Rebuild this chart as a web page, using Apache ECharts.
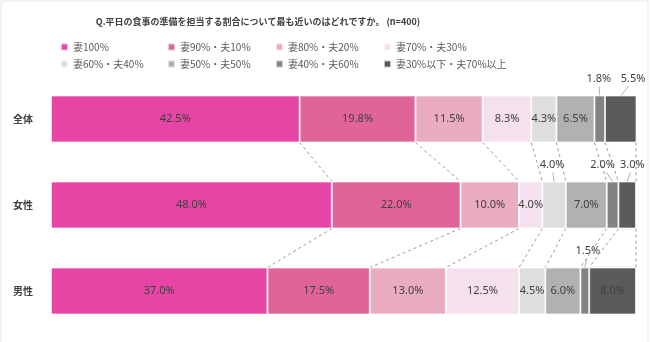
<!DOCTYPE html>
<html><head><meta charset="utf-8">
<script src="https://cdn.jsdelivr.net/npm/echarts@6/dist/echarts.min.js"></script>
<style>html,body{margin:0;padding:0;background:#fff}#c{width:650px;height:342px}</style>
</head><body><div id="c"></div>
<script>
var categories = ['全体', '女性', '男性'];
var seriesNames = ['妻100%', '妻90%・夫10%', '妻80%・夫20%', '妻70%・夫30%', '妻60%・夫40%', '妻50%・夫50%', '妻40%・夫60%', '妻30%以下・夫70%以上'];
var s0 = [42.5, 48.0, 37.0];
var s1 = [19.8, 22.0, 17.5];
var s2 = [11.5, 10.0, 13.0];
var s3 = [8.3, 4.0, 12.5];
var s4 = [4.3, 4.0, 4.5];
var s5 = [6.5, 7.0, 6.0];
var s6 = [1.8, 2.0, 1.5];
var s7 = [5.5, 3.0, 8.0];
var values = [s0, s1, s2, s3, s4, s5, s6, s7];
var title = 'Q.平日の食事の準備を担当する割合について最も近いのはどれですか。 (n=400)';

var colors = ['#E645A5', '#E06497', '#E9ACC1', '#F5E1EE', '#DEDEDE', '#B1B1B1', '#838383', '#5B5B5B'];
var BAR = 47;
// labels drawn outside: [seriesIndex, catIndex, dx]
var outside = [[6, 0, -1], [7, 0, 12], [4, 1, -2], [6, 1, -10], [7, 1, 5], [6, 2, 3]];
function isOutside(si, ci) { return outside.some(function (o) { return o[0] === si && o[1] === ci; }); }

var series = values.map(function (arr, si) {
  return {
    name: seriesNames[si], type: 'bar', stack: 'a', barWidth: BAR,
    itemStyle: { color: colors[si], borderColor: 'rgba(255,255,255,0.65)', borderWidth: 1 },
    label: { show: true, position: 'inside', color: '#404040', fontSize: 11, fontFamily: 'Noto Sans',
      formatter: function (p) { return p.value.toFixed(1) + '%'; } },
    data: arr.map(function (v, ci) {
      return isOutside(si, ci) ? { value: v, label: { show: false } } : v;
    }),
    z: 3
  };
});

// connector lines: cumulative boundaries between consecutive categories
var connData = [];
for (var ci = 0; ci < categories.length - 1; ci++) {
  var a = 0, b = 0;
  for (var si = 0; si < values.length; si++) {
    a += values[si][ci]; b += values[si][ci + 1];
    connData.push([Math.min(a, 100), ci, Math.min(b, 100), ci + 1]);
  }
}
series.push({
  type: 'custom', silent: true, z: 1,
  renderItem: function (params, api) {
    var p1 = api.coord([api.value(0), api.value(1)]);
    var p2 = api.coord([api.value(2), api.value(3)]);
    return { type: 'line', shape: { x1: p1[0], y1: p1[1] + BAR / 2, x2: p2[0], y2: p2[1] - BAR / 2 },
      style: { stroke: '#9a9a9a', lineWidth: 1, lineDash: [3, 3] } };
  },
  data: connData
});

// outside labels
var outData = outside.map(function (o) {
  var si = o[0], ci = o[1], start = 0;
  for (var k = 0; k < si; k++) start += values[k][ci];
  return [start + values[si][ci] / 2, ci, values[si][ci], o[2]];
});
series.push({
  type: 'custom', silent: true, z: 4,
  renderItem: function (params, api) {
    var p = api.coord([api.value(0), api.value(1)]);
    var dx = api.value(3);
    var top = p[1] - BAR / 2;
    return { type: 'group', children: [
      { type: 'line', shape: { x1: p[0] + dx * 0.6, y1: top - 9, x2: p[0], y2: top },
        style: { stroke: '#b0b0b0', lineWidth: 1 } },
      { type: 'text', x: p[0] + dx, y: top - 17,
        style: { text: api.value(2).toFixed(1) + '%', fill: '#404040', fontSize: 11, fontFamily: 'Noto Sans',
          textAlign: 'center', textVerticalAlign: 'middle' } }
    ] };
  },
  data: outData
});

var legendCols = [55, 162, 270, 378];
var legends = seriesNames.map(function (n, i) {
  return { left: legendCols[i % 4], top: i < 4 ? 37 : 54, data: [n],
    icon: 'rect', itemWidth: 7, itemHeight: 7, itemGap: 4,
    textStyle: { color: '#595959', fontSize: 10, fontFamily: 'Noto Sans CJK JP' } };
});
var chart = echarts.init(document.getElementById('c'));
chart.setOption({
  animation: false,
  color: colors,
  graphic: [
    { type: 'rect', shape: { x: 1, y: 1, width: 647, height: 345 }, style: { fill: 'none', stroke: '#e6e6e6', lineWidth: 1 }, z: 0 },
    { type: 'text', x: 258, y: 22, style: { text: title, fill: '#404040', fontSize: 9, fontWeight: 'bold',
      fontFamily: 'Noto Sans CJK JP', textAlign: 'center', textVerticalAlign: 'middle' } }
  ],
  legend: legends,
  grid: { left: 51, right: 14, top: 76, height: 258 },
  xAxis: { type: 'value', min: 0, max: 100, show: false },
  yAxis: { type: 'category', data: categories, inverse: true,
    axisLine: { show: false }, axisTick: { show: false },
    axisLabel: { color: '#404040', fontSize: 10, fontWeight: 'bold', fontFamily: 'Noto Sans CJK JP', margin: 18 } },
  series: series
});
</script></body></html>
